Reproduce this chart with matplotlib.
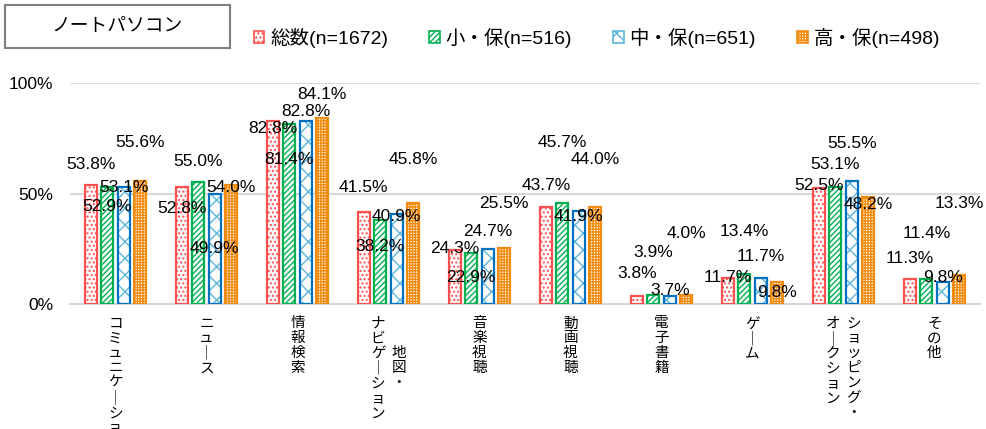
import matplotlib
matplotlib.use('Agg')
import matplotlib.pyplot as plt
from matplotlib.patches import Rectangle, Patch
import numpy as np

plt.rcParams['font.family'] = ['Liberation Sans', 'Noto Sans CJK JP']
plt.rcParams['hatch.linewidth'] = 1.0

# カテゴリ（縦書き、"\n" で列を区切る：右の列が先）
categories = ['コミュニケーション', 'ニュース', '情報検索', '地図・\nナビゲーション', '音楽視聴',
              '動画視聴', '電子書籍', 'ゲーム', 'ショッピング・\nオークション', 'その他']
series_names = ['総数(n=1672)', '小・保(n=516)', '中・保(n=651)', '高・保(n=498)']

total = [53.8, 52.8, 82.8, 41.5, 24.3, 43.7, 3.8, 11.7, 52.5, 11.3]
elem = [52.9, 55.0, 81.4, 38.2, 22.9, 45.7, 3.9, 13.4, 53.1, 11.4]
middle = [53.1, 49.9, 82.8, 40.9, 24.7, 41.9, 3.7, 11.7, 55.5, 9.8]
high = [55.6, 54.0, 84.1, 45.8, 25.5, 44.0, 4.0, 9.8, 48.2, 13.3]
series = [total, elem, middle, high]

# ラベルの縦位置（Excelで手動配置された位置）
label_y = [
    [62.9, 43.4, 79.6, 52.5, 25.3, 53.4, 14.0, 12.2, 53.4, 20.8],
    [43.9, 64.7, 65.6, 26.2, 11.8, 72.9, 23.5, 32.6, 62.9, 31.7],
    [52.9, 25.3, 86.9, 39.8, 32.6, 39.4, 5.9, 21.3, 72.4, 11.8],
    [72.9, 52.9, 94.6, 65.2, 45.7, 65.6, 31.7, 5.0, 45.2, 45.7],
]

edge_colors = ['#FF5050', '#00B050', '#0070C0', '#F08C10']
hatch_colors = ['#FF5050', '#00B050', '#5DB6DC', '#F08C10']
hatches = ['....', '//////', 'xx', '++++++']

fig = plt.figure(figsize=(9.86, 4.29), dpi=100)
ax = fig.add_axes([70 / 986, 1 - 304 / 429, 910 / 986, 221 / 429])

x = np.arange(len(categories))
pitch = 0.181
width = 0.128
for k, vals in enumerate(series):
    pos = x + (k - 1.5) * pitch
    # 模様（ハッチ）と枠線を別々に描く
    ax.bar(pos, vals, width, color='white', edgecolor=hatch_colors[k], hatch=hatches[k],
           linewidth=0, zorder=2)
    ax.bar(pos, vals, width, color='none', edgecolor=edge_colors[k], linewidth=1.6, zorder=3)
    for xi, v, ly in zip(pos, vals, label_y[k]):
        ax.text(xi, ly, f'{v:.1f}%', ha='center', va='center', fontsize=12.5,
                color='#000000', zorder=5)

ax.set_xlim(-0.5, len(categories) - 0.5)
ax.set_ylim(0, 100)
ax.set_yticks([0, 50, 100])
ax.set_yticklabels(['0%', '50%', '100%'], fontsize=12.5)
ax.yaxis.grid(True, color='#D9D9D9', linewidth=1.5, zorder=0)
ax.set_axisbelow(True)
ax.tick_params(axis='y', length=0, pad=12)
ax.tick_params(axis='x', length=0)
ax.set_xticks(x)
ax.set_xticklabels([])
for s in ['top', 'right', 'left']:
    ax.spines[s].set_visible(False)
ax.spines['bottom'].set_color('#D9D9D9')
ax.spines['bottom'].set_linewidth(1.5)

# 縦書きのカテゴリラベル
for xi, label in zip(x, categories):
    cols = label.split('\n')
    nmax = max(len(c) for c in cols)
    ncol = len(cols)
    for j, col in enumerate(cols):
        chars = [('｜' if ch == 'ー' else ch) for ch in col]
        pad_lines = (nmax - len(col)) // 2
        txt = '\n' * pad_lines + '\n'.join(chars)
        dx = ((ncol - 1) / 2 - j) * 15
        ax.annotate(txt, xy=(xi, 0), xycoords=('data', 'axes fraction'),
                    xytext=(dx, -9), textcoords='offset points', ha='center', va='top',
                    fontsize=10.5, linespacing=1.08, family='Noto Sans CJK JP',
                    annotation_clip=False)

# タイトルの枠
fig.patches.append(Rectangle((5 / 986, 1 - 48 / 429), 225 / 986, 43 / 429, transform=fig.transFigure,
                             facecolor='white', edgecolor='#7F7F7F', linewidth=1.5))
fig.text(117 / 986, 1 - 27 / 429, 'ノートパソコン', ha='center', va='center', fontsize=13.5)

handles = [Patch(facecolor='white', edgecolor=hatch_colors[k], hatch=hatches[k], linewidth=1.2)
           for k in range(4)]
fig.legend(handles, series_names, loc='center left', bbox_to_anchor=(246 / 986, 1 - 38 / 429),
           ncol=4, frameon=False, fontsize=14, handlelength=0.55, handleheight=0.55,
           handletextpad=0.3, columnspacing=2.1, borderaxespad=0)

fig.savefig('out.png', dpi=100)
